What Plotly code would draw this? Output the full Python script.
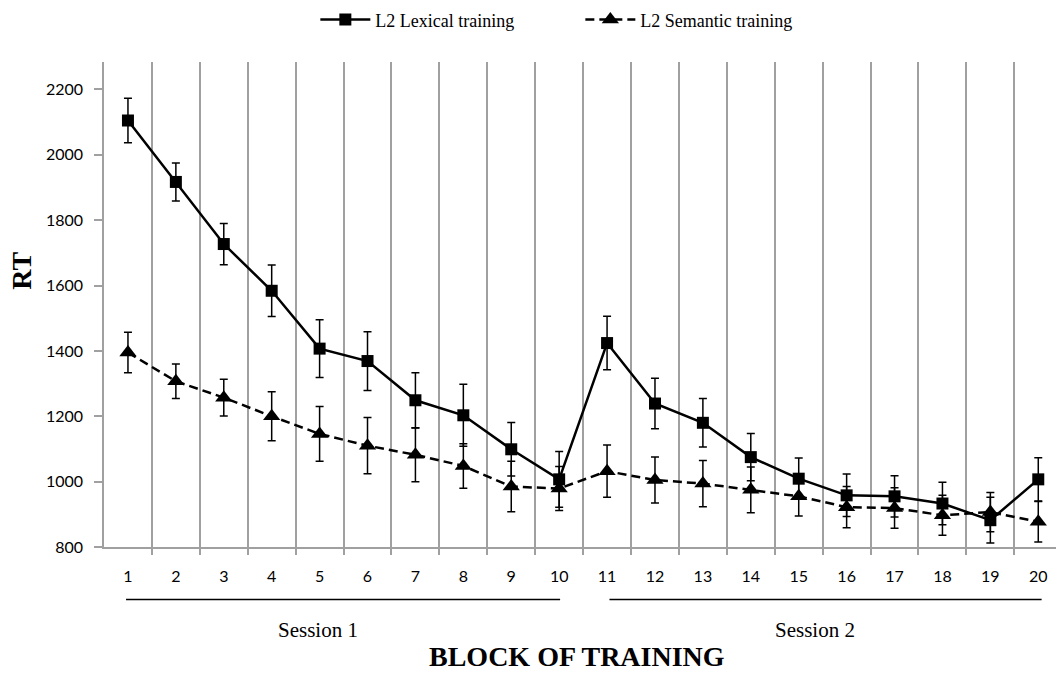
import plotly.graph_objects as go

blocks = list(range(1, 21))
tick_labels = [str(b) for b in blocks]
lexical = [2105, 1917, 1727, 1584, 1407, 1369, 1249, 1203, 1099, 1007,
           1424, 1239, 1180, 1075, 1009, 958, 955, 933, 882, 1007]
lexical_err = [68, 58, 63, 79, 88, 90, 84, 95, 82, 85,
               82, 77, 74, 72, 63, 65, 63, 65, 70, 66]
semantic = [1395, 1307, 1257, 1200, 1146, 1110, 1082, 1048, 985, 979,
            1032, 1005, 994, 975, 955, 922, 919, 897, 907, 877]
semantic_err = [62, 53, 56, 75, 84, 86, 82, 68, 77, 67,
                80, 70, 71, 70, 60, 63, 62, 61, 60, 62]
y_ticks = [800, 1000, 1200, 1400, 1600, 1800, 2000, 2200]
sessions = [("Session 1", 0.96, 10.02, 4.96), ("Session 2", 11.05, 20.07, 15.33)]

serif = "Liberation Serif, Times New Roman, serif"
sans = "Lato, Open Sans, sans-serif"

fig = go.Figure()
fig.add_trace(go.Scatter(
    x=blocks, y=lexical, name="L2 Lexical training", mode="lines+markers",
    line=dict(color="black", width=2.5),
    marker=dict(symbol="square", size=12, color="black"),
    error_y=dict(type="data", array=lexical_err, color="black", thickness=1.5, width=4),
))
fig.add_trace(go.Scatter(
    x=blocks, y=semantic, name="L2 Semantic training", mode="lines+markers",
    line=dict(color="black", width=2.5, dash="9px,5px"),
    marker=dict(symbol="triangle-up", size=15, color="black"),
    error_y=dict(type="data", array=semantic_err, color="black", thickness=1.5, width=4),
))

shapes = []
annotations = []
for name, x0, x1, xc in sessions:
    shapes.append(dict(type="line", xref="x", yref="paper", x0=x0, x1=x1,
                       y0=-0.1085, y1=-0.1085, line=dict(color="black", width=1.5)))
    annotations.append(dict(text=name, xref="x", yref="paper", x=xc, y=-0.1704,
                            showarrow=False, font=dict(family=serif, size=21, color="black"),
                            xanchor="center", yanchor="middle"))
annotations.append(dict(text="<b>BLOCK OF TRAINING</b>", xref="paper", yref="paper",
                        x=0.497, y=-0.225, showarrow=False,
                        font=dict(family=serif, size=28, color="black"),
                        xanchor="center", yanchor="middle"))
annotations.append(dict(text="<b>RT</b>", xref="paper", yref="paper",
                        x=-0.087, y=0.57, showarrow=False, textangle=-90,
                        font=dict(family=serif, size=28, color="black"),
                        xanchor="center", yanchor="middle"))

fig.update_layout(
    width=1056, height=675,
    margin=dict(l=104, r=0, t=62, b=128),
    paper_bgcolor="white", plot_bgcolor="white",
    showlegend=True,
    legend=dict(orientation="h", x=0.222, y=1.087, xanchor="left", yanchor="middle",
                font=dict(family=serif, size=18, color="black"),
                itemwidth=50, entrywidth=200, bgcolor="rgba(0,0,0,0)"),
    shapes=shapes,
    annotations=annotations,
    xaxis=dict(range=[0.5, 20.37], tickvals=blocks, ticktext=tick_labels,
               showgrid=False, zeroline=False, ticks="",
               showline=True, linecolor="#a0a0a0", linewidth=1.5,
               tickfont=dict(family=sans, size=16, color="black"),
               ticklabelstandoff=14,
               minor=dict(tickvals=[b + 0.5 for b in blocks[:-1]], showgrid=True,
                          gridcolor="#a0a0a0", gridwidth=1.5,
                          ticks="outside", ticklen=6, tickcolor="#a0a0a0", tickwidth=1.5)),
    yaxis=dict(range=[800, 2284], tickvals=y_ticks, showgrid=False, zeroline=False,
               showline=True, linecolor="#a0a0a0", linewidth=1.5,
               ticks="outside", ticklen=8, tickcolor="#a0a0a0", tickwidth=1.5,
               tickfont=dict(family=sans, size=16, color="black"),
               ticklabelstandoff=8),
)

fig.write_html("out.html")
